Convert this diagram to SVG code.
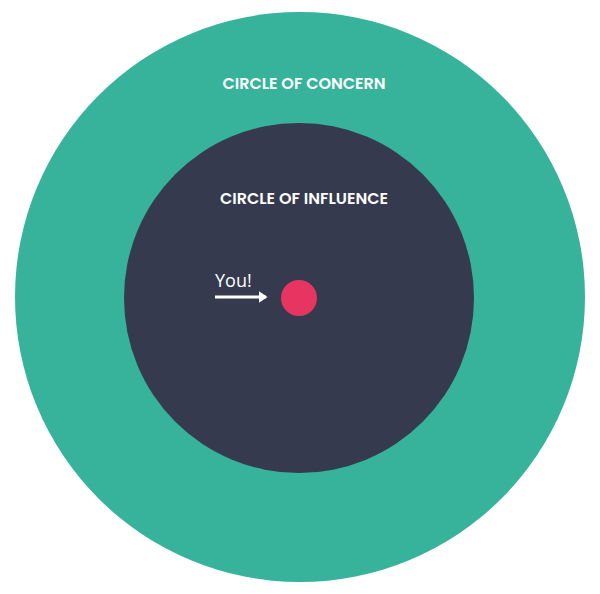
<svg xmlns="http://www.w3.org/2000/svg" width="600" height="594" viewBox="0 0 600 594">
<style>
.lbl{font-family:Poppins,"Open Sans","Liberation Sans",sans-serif;fill:#fff;text-anchor:middle;font-weight:600;font-size:16px}
</style>
<defs><marker id="ah" markerWidth="4" markerHeight="4" refX="2.5" refY="2" orient="auto" markerUnits="strokeWidth"><path d="M0,0 L3,2 L0,4 Z" fill="#fff"/></marker></defs>
<rect width="600" height="594" fill="#fff"/>
<g id="concern"><circle cx="300" cy="297" r="285" fill="#36b39a"/><text class="lbl" x="304" y="89">CIRCLE OF CONCERN</text></g>
<g id="influence"><circle cx="299" cy="298" r="175" fill="#353a4e"/><text class="lbl" x="304" y="204">CIRCLE OF INFLUENCE</text></g>
<g id="you"><circle cx="299" cy="298" r="18" fill="#e63560"/><text x="215" y="287" font-family="'Open Sans','Liberation Sans',sans-serif" font-size="18" fill="#fff">You!</text></g>
<g id="connectors"><line x1="215" y1="297" x2="266" y2="297" stroke="#fff" stroke-width="3" marker-end="url(#ah)"/></g>
</svg>
